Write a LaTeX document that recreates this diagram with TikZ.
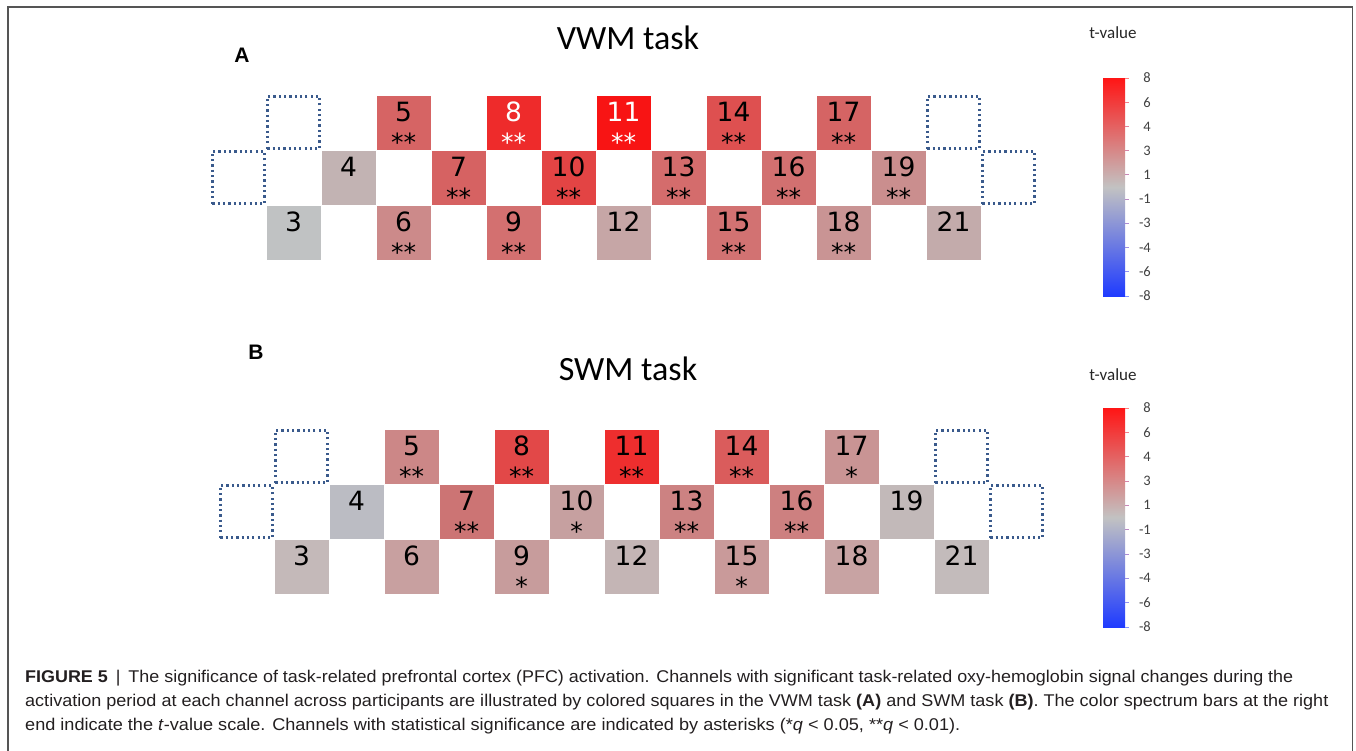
\documentclass[tikz,border=0pt]{standalone}
\usepackage{fontspec}
\usepackage{graphicx}
\setmainfont{Liberation Sans}
\newfontfamily\numfont{DejaVu Sans}
\newfontfamily\calfont{Carlito}
% panel A colours
\definecolor{aiii}{HTML}{C0C2C3}
\definecolor{aiv}{HTML}{C2B3B3}
\definecolor{av}{HTML}{D66464}
\definecolor{avi}{HTML}{CC8A8A}
\definecolor{avii}{HTML}{D66262}
\definecolor{aviii}{HTML}{EE2B2B}
\definecolor{aix}{HTML}{D37070}
\definecolor{ax}{HTML}{E34444}
\definecolor{axi}{HTML}{F81414}
\definecolor{axii}{HTML}{C6A6A6}
\definecolor{axiii}{HTML}{D46C6C}
\definecolor{axiv}{HTML}{DE5050}
\definecolor{axv}{HTML}{D27272}
\definecolor{axvi}{HTML}{D27070}
\definecolor{axvii}{HTML}{D56464}
\definecolor{axviii}{HTML}{C99494}
\definecolor{axix}{HTML}{CA8E8E}
\definecolor{axxi}{HTML}{C3ABAB}
% panel B colours
\definecolor{biii}{HTML}{C4B9B9}
\definecolor{biv}{HTML}{BBBCC3}
\definecolor{bv}{HTML}{CC8787}
\definecolor{bvi}{HTML}{C8A0A0}
\definecolor{bvii}{HTML}{CC7474}
\definecolor{bviii}{HTML}{E24848}
\definecolor{bix}{HTML}{C79C9C}
\definecolor{bx}{HTML}{C6A0A0}
\definecolor{bxi}{HTML}{EE2E2E}
\definecolor{bxii}{HTML}{C4B5B5}
\definecolor{bxiii}{HTML}{CC8282}
\definecolor{bxiv}{HTML}{DA5C5C}
\definecolor{bxv}{HTML}{C99A9A}
\definecolor{bxvi}{HTML}{CD8080}
\definecolor{bxvii}{HTML}{C99494}
\definecolor{bxviii}{HTML}{C8A3A3}
\definecolor{bxix}{HTML}{C2B9B9}
\definecolor{bxxi}{HTML}{C3BBBB}
% others
\definecolor{dotblue}{HTML}{3A5A8C}
\definecolor{cbtop}{HTML}{FF1515}
\definecolor{cbmid}{HTML}{C2C2C2}
\definecolor{cbbot}{HTML}{1F3BFF}
\definecolor{captxt}{HTML}{231F20}
\definecolor{framec}{HTML}{555555}
\definecolor{ticklab}{HTML}{404040}

\newcommand\chan[6]{% panel, col, row, fill, number, textcolour
  \node[cellbox, fill=#4] (#1#5) at ({\pcx+55*#2},{\pcy+55*#3}) {};
  \node[numtxt, text=#6] (#1#5n) at ([yshift=10.5pt]#1#5.center) {#5};}
\newcommand\sig[3]{% cell name, stars, colour
  \node[startxt, text=#3] (#1s) at ([yshift=-28.8pt]#1.center) {#2};}
\newcommand\dbox[3]{\node[dotbox] (#1) at ({\pcx+55*#2},{\pcy+55*#3}) {};}

\tikzset{
  cellbox/.style={draw=white, line width=0.5pt, minimum size=55pt, inner sep=0pt},
  dotbox/.style={draw=dotblue, line width=2.8pt, dash pattern=on 2.2pt off 3.1pt, minimum size=52.2pt, inner sep=0pt},
  numtxt/.style={font=\numfont\fontsize{26.5pt}{26.5pt}\selectfont, inner sep=0pt},
  startxt/.style={font=\numfont\fontsize{25pt}{25pt}\selectfont, inner sep=0pt, anchor=base},
  title/.style={font=\calfont\fontsize{34pt}{34pt}\selectfont, inner sep=0pt},
  panlab/.style={font=\bfseries\fontsize{21pt}{21pt}\selectfont, inner sep=0pt},
  tval/.style={font=\calfont\fontsize{17pt}{17pt}\selectfont, text=black!85, inner sep=0pt},
  cbar/.style={top color=cbtop, bottom color=cbbot, middle color=cbmid, minimum width=22pt, inner sep=0pt},
  ticklabel/.style={font=\calfont\fontsize{14.5pt}{14.5pt}\selectfont, text=ticklab, anchor=east, inner sep=0pt},
  caption/.style={font=\fontsize{17pt}{17pt}\selectfont, text=captxt, anchor=base west, inner sep=0pt},
}

\begin{document}
\begin{tikzpicture}[x=1pt,y=-1pt]
\useasboundingbox (0,0) rectangle (1356,750);
\draw[framec, line width=1.2pt] (8,751) -- (8,7) -- (1352.5,7) -- (1352.5,751);

% ---------------- Panel A ----------------
\node[panlab] (labA) at (242,55) {A};
\node[title] (titA) at (628,38) {VWM task};
\def\pcx{238.5}\def\pcy{122.5}
\dbox{Ad1}{1}{0}
\dbox{Ad2}{0}{1}
\dbox{Ad3}{13}{0}
\dbox{Ad4}{14}{1}
\chan{A}{3}{0}{av}{5}{black}
\chan{A}{5}{0}{aviii}{8}{white}
\chan{A}{7}{0}{axi}{11}{white}
\chan{A}{9}{0}{axiv}{14}{black}
\chan{A}{11}{0}{axvii}{17}{black}
\chan{A}{2}{1}{aiv}{4}{black}
\chan{A}{4}{1}{avii}{7}{black}
\chan{A}{6}{1}{ax}{10}{black}
\chan{A}{8}{1}{axiii}{13}{black}
\chan{A}{10}{1}{axvi}{16}{black}
\chan{A}{12}{1}{axix}{19}{black}
\chan{A}{1}{2}{aiii}{3}{black}
\chan{A}{3}{2}{avi}{6}{black}
\chan{A}{5}{2}{aix}{9}{black}
\chan{A}{7}{2}{axii}{12}{black}
\chan{A}{9}{2}{axv}{15}{black}
\chan{A}{11}{2}{axviii}{18}{black}
\chan{A}{13}{2}{axxi}{21}{black}
\sig{A5}{**}{black}
\sig{A8}{**}{white}
\sig{A11}{**}{white}
\sig{A14}{**}{black}
\sig{A17}{**}{black}
\sig{A7}{**}{black}
\sig{A10}{**}{black}
\sig{A13}{**}{black}
\sig{A16}{**}{black}
\sig{A19}{**}{black}
\sig{A6}{**}{black}
\sig{A9}{**}{black}
\sig{A15}{**}{black}
\sig{A18}{**}{black}

% colour bar A
\node[tval] (tvA) at (1113,33) {t-value};
\node[cbar, minimum height=218pt] (cbA) at (1114,187) {};
\foreach \lab [count=\i from 0] in {8,6,4,3,1,-1,-3,-4,-6,-8}{
  \pgfmathsetmacro\yy{78+\i*24.22}
  \pgfmathsetmacro\mix{100-\i*11.1}
  \draw[cbtop!\mix!cbbot!55!white, line width=0.8pt] (1125,\yy) -- (1129,\yy);
  \node[ticklabel] (cbAl\i) at (1151,\yy) {\lab};
}

% ---------------- Panel B ----------------
\node[panlab] (labB) at (256,352) {B};
\node[title] (titB) at (628,369) {SWM task};
\def\pcx{246.5}\def\pcy{456.5}
\dbox{Bd1}{1}{0}
\dbox{Bd2}{0}{1}
\dbox{Bd3}{13}{0}
\dbox{Bd4}{14}{1}
\chan{B}{3}{0}{bv}{5}{black}
\chan{B}{5}{0}{bviii}{8}{black}
\chan{B}{7}{0}{bxi}{11}{black}
\chan{B}{9}{0}{bxiv}{14}{black}
\chan{B}{11}{0}{bxvii}{17}{black}
\chan{B}{2}{1}{biv}{4}{black}
\chan{B}{4}{1}{bvii}{7}{black}
\chan{B}{6}{1}{bx}{10}{black}
\chan{B}{8}{1}{bxiii}{13}{black}
\chan{B}{10}{1}{bxvi}{16}{black}
\chan{B}{12}{1}{bxix}{19}{black}
\chan{B}{1}{2}{biii}{3}{black}
\chan{B}{3}{2}{bvi}{6}{black}
\chan{B}{5}{2}{bix}{9}{black}
\chan{B}{7}{2}{bxii}{12}{black}
\chan{B}{9}{2}{bxv}{15}{black}
\chan{B}{11}{2}{bxviii}{18}{black}
\chan{B}{13}{2}{bxxi}{21}{black}
\sig{B5}{**}{black}
\sig{B8}{**}{black}
\sig{B11}{**}{black}
\sig{B14}{**}{black}
\sig{B17}{*}{black}
\sig{B7}{**}{black}
\sig{B10}{*}{black}
\sig{B13}{**}{black}
\sig{B16}{**}{black}
\sig{B9}{*}{black}
\sig{B15}{*}{black}

% colour bar B
\node[tval] (tvB) at (1113,375) {t-value};
\node[cbar, minimum height=219pt] (cbB) at (1114,517.5) {};
\foreach \lab [count=\i from 0] in {8,6,4,3,1,-1,-3,-4,-6,-8}{
  \pgfmathsetmacro\yy{408+\i*24.33}
  \pgfmathsetmacro\mix{100-\i*11.1}
  \draw[cbtop!\mix!cbbot!55!white, line width=0.8pt] (1125,\yy) -- (1129,\yy);
  \node[ticklabel] (cbBl\i) at (1151,\yy) {\lab};
}

% ---------------- Caption ----------------
\node[caption] (cap1) at (25,682) {\resizebox{1268pt}{\height}{\textbf{FIGURE 5} \,|\, The significance of task-related prefrontal cortex (PFC) activation. Channels with significant task-related oxy-hemoglobin signal changes during the}};
\node[caption] (cap2) at (25,706) {\resizebox{1303pt}{\height}{activation period at each channel across participants are illustrated by colored squares in the VWM task \textbf{(A)} and SWM task \textbf{(B)}. The color spectrum bars at the right}};
\node[caption] (cap3) at (25,730) {\resizebox{935pt}{\height}{end indicate the \textit{t}-value scale. Channels with statistical significance are indicated by asterisks (*\textit{q} < 0.05, **\textit{q} < 0.01).}};
\end{tikzpicture}
\end{document}
